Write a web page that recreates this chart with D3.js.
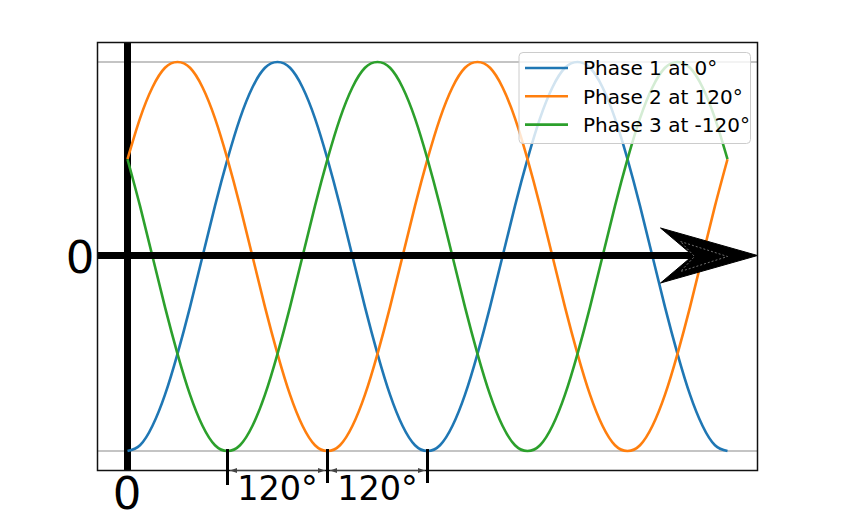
<!DOCTYPE html>
<html>
<head>
<meta charset="utf-8">
<script src="https://cdn.jsdelivr.net/npm/d3@7"></script>
<style>
  html, body { margin: 0; padding: 0; background: #fff; }
  svg { display: block; font-family: "DejaVu Sans", sans-serif; }
</style>
</head>
<body>
<svg id="chart" width="841" height="526"></svg>
<script>
// ---- data ----
const angles = [0,15,30,45,60,75,90,105,120,135,150,165,180,195,210,225,240,255,270,285,300,315,330,345,
                360,375,390,405,420,435,450,465,480,495,510,525,540,555,570,585,600,615,630,645,660,675,690,705,720];
const phase1 = [-1,-0.97,-0.87,-0.71,-0.5,-0.26,0,0.26,0.5,0.71,0.87,0.97,1,0.97,0.87,0.71,0.5,0.26,0,-0.26,-0.5,-0.71,-0.87,-0.97,
                -1,-0.97,-0.87,-0.71,-0.5,-0.26,0,0.26,0.5,0.71,0.87,0.97,1,0.97,0.87,0.71,0.5,0.26,0,-0.26,-0.5,-0.71,-0.87,-0.97,-1];
const phase2 = [0.5,0.71,0.87,0.97,1,0.97,0.87,0.71,0.5,0.26,0,-0.26,-0.5,-0.71,-0.87,-0.97,-1,-0.97,-0.87,-0.71,-0.5,-0.26,0,0.26,
                0.5,0.71,0.87,0.97,1,0.97,0.87,0.71,0.5,0.26,0,-0.26,-0.5,-0.71,-0.87,-0.97,-1,-0.97,-0.87,-0.71,-0.5,-0.26,0,0.26,0.5];
const phase3 = [0.5,0.26,0,-0.26,-0.5,-0.71,-0.87,-0.97,-1,-0.97,-0.87,-0.71,-0.5,-0.26,0,0.26,0.5,0.71,0.87,0.97,1,0.97,0.87,0.71,
                0.5,0.26,0,-0.26,-0.5,-0.71,-0.87,-0.97,-1,-0.97,-0.87,-0.71,-0.5,-0.26,0,0.26,0.5,0.71,0.87,0.97,1,0.97,0.87,0.71,0.5];
const seriesNames = ["Phase 1 at 0°", "Phase 2 at 120°", "Phase 3 at -120°"];
const seriesColors = ["#1f77b4", "#ff7f0e", "#2ca02c"];
const peakLevels = [1, -1];
const markerAngles = [120, 240, 360];
const spanLabels = ["120°", "120°"];
const xZeroLabel = "0";
const yZeroLabel = "0";

// ---- layout ----
const svg = d3.select("#chart");
const xDomain = [-36, 756];
const yDomain = [-1.1, 1.1];
const plot = { left: 97.5, right: 757.5, top: 42.5, bottom: 470.5 };
const x = d3.scaleLinear().domain(xDomain).range([plot.left, plot.right]);
const y = d3.scaleLinear().domain(yDomain).range([plot.bottom, plot.top]);

// gray horizontal lines at ±1
svg.selectAll("line.peak").data(peakLevels).join("line")
  .attr("class", "peak")
  .attr("x1", plot.left).attr("x2", plot.right)
  .attr("y1", d => y(d)).attr("y2", d => y(d))
  .attr("stroke", "#b0b0b0").attr("stroke-width", 1.5);

// thick vertical line at 0
svg.append("line")
  .attr("x1", x(0)).attr("x2", x(0))
  .attr("y1", plot.top).attr("y2", plot.bottom)
  .attr("stroke", "#000").attr("stroke-width", 7);

// curves
const series = [phase1, phase2, phase3];
const line = d3.line()
  .x((d, i) => x(angles[i]))
  .y(d => y(d))
  .curve(d3.curveNatural);
svg.selectAll("path.phase").data(series).join("path")
  .attr("class", "phase")
  .attr("d", d => line(d))
  .attr("fill", "none")
  .attr("stroke", (d, i) => seriesColors[i])
  .attr("stroke-width", 2.6);

// big horizontal arrow
const ay = y(0) - 1;
const x0 = x(xDomain[0]), x1 = x(xDomain[1]);
const headLen = 97, headHalf = 27.5, notch = 72, shaft = 3;
const arrowPath = [
  [x0, ay - shaft], [x1 - notch + 4, ay - shaft],
  [x1 - headLen, ay - headHalf], [x1, ay], [x1 - headLen, ay + headHalf],
  [x1 - notch + 4, ay + shaft], [x0, ay + shaft]
];
svg.append("path")
  .attr("d", d3.line()(arrowPath) + "Z")
  .attr("fill", "#000").attr("stroke", "#000").attr("stroke-width", 1);
const inner = [[x1 - 77, ay - 14], [x1 - 30, ay + 1], [x1 - 77, ay + 16], [x1 - 63, ay + 1]];
svg.append("path")
  .attr("d", d3.line()(inner) + "Z")
  .attr("fill", "none").attr("stroke", "#8a8a8a")
  .attr("stroke-width", 0.8).attr("stroke-dasharray", "2,2");

// frame
svg.append("rect")
  .attr("x", plot.left).attr("y", plot.top)
  .attr("width", plot.right - plot.left).attr("height", plot.bottom - plot.top)
  .attr("fill", "none").attr("stroke", "#111").attr("stroke-width", 1.5);

// axes zero labels
const xAxis = d3.axisBottom(x).tickValues([0]).tickSize(0).tickPadding(0).tickFormat(() => xZeroLabel);
const gx = svg.append("g").attr("transform", `translate(0,${plot.bottom})`).call(xAxis);
gx.select(".domain").remove();
gx.selectAll("text").attr("font-size", 45).attr("fill", "#000")
  .attr("font-family", "DejaVu Sans").attr("dy", "0").attr("y", 38).attr("dx", -1);

const yAxis = d3.axisLeft(y).tickValues([0]).tickSize(0).tickPadding(3).tickFormat(() => yZeroLabel);
const gy = svg.append("g").attr("transform", `translate(${plot.left},0)`).call(yAxis);
gy.select(".domain").remove();
gy.selectAll("text").attr("font-size", 45).attr("fill", "#000")
  .attr("font-family", "DejaVu Sans").attr("dy", "0.36em");

// 120° markers
svg.selectAll("line.marker").data(markerAngles).join("line")
  .attr("class", "marker")
  .attr("x1", d => x(d)).attr("x2", d => x(d))
  .attr("y1", y(-1) - 2).attr("y2", (d, i) => i === 0 ? 485 : 483)
  .attr("stroke", "#000").attr("stroke-width", 3);

const defs = svg.append("defs");
defs.append("marker").attr("id", "ah").attr("viewBox", "0 0 10 10")
  .attr("refX", 10).attr("refY", 5).attr("markerWidth", 7).attr("markerHeight", 7)
  .attr("markerUnits", "userSpaceOnUse")
  .attr("orient", "auto-start-reverse")
  .append("path").attr("d", "M0,1.5 L10,5 L0,8.5 Z").attr("fill", "#444");

const spans = spanLabels.map((lab, i) => ({ a: markerAngles[i], b: markerAngles[i + 1], lab }));
svg.selectAll("line.span").data(spans).join("line")
  .attr("class", "span")
  .attr("x1", d => x(d.a) + 2.5).attr("x2", d => x(d.b) - 2.5)
  .attr("y1", plot.bottom).attr("y2", plot.bottom)
  .attr("stroke", "#444").attr("stroke-width", 1)
  .attr("marker-start", "url(#ah)").attr("marker-end", "url(#ah)");
svg.selectAll("text.span").data(spans).join("text")
  .attr("class", "span")
  .attr("x", d => (x(d.a) + x(d.b)) / 2)
  .attr("y", 499.5)
  .attr("text-anchor", "middle")
  .attr("font-size", 33.5)
  .attr("fill", "#000")
  .text(d => d.lab);

// legend
const lg = svg.append("g").attr("transform", "translate(519,52.5)");
lg.append("rect").attr("width", 231.5).attr("height", 91).attr("rx", 4)
  .attr("fill", "#fff").attr("fill-opacity", 0.8)
  .attr("stroke", "#cccccc").attr("stroke-width", 1);
const rows = lg.selectAll("g.row").data(seriesNames).join("g")
  .attr("class", "row")
  .attr("transform", (d, i) => `translate(0,${15.5 + i * 28.3})`);
rows.append("line").attr("x1", 6).attr("x2", 49).attr("y1", 0).attr("y2", 0)
  .attr("stroke", (d, i) => seriesColors[i]).attr("stroke-width", 2.6);
rows.append("text").attr("x", 64).attr("y", 7.3)
  .attr("font-size", 20).attr("fill", "#000").text(d => d);
</script>
</body>
</html>
